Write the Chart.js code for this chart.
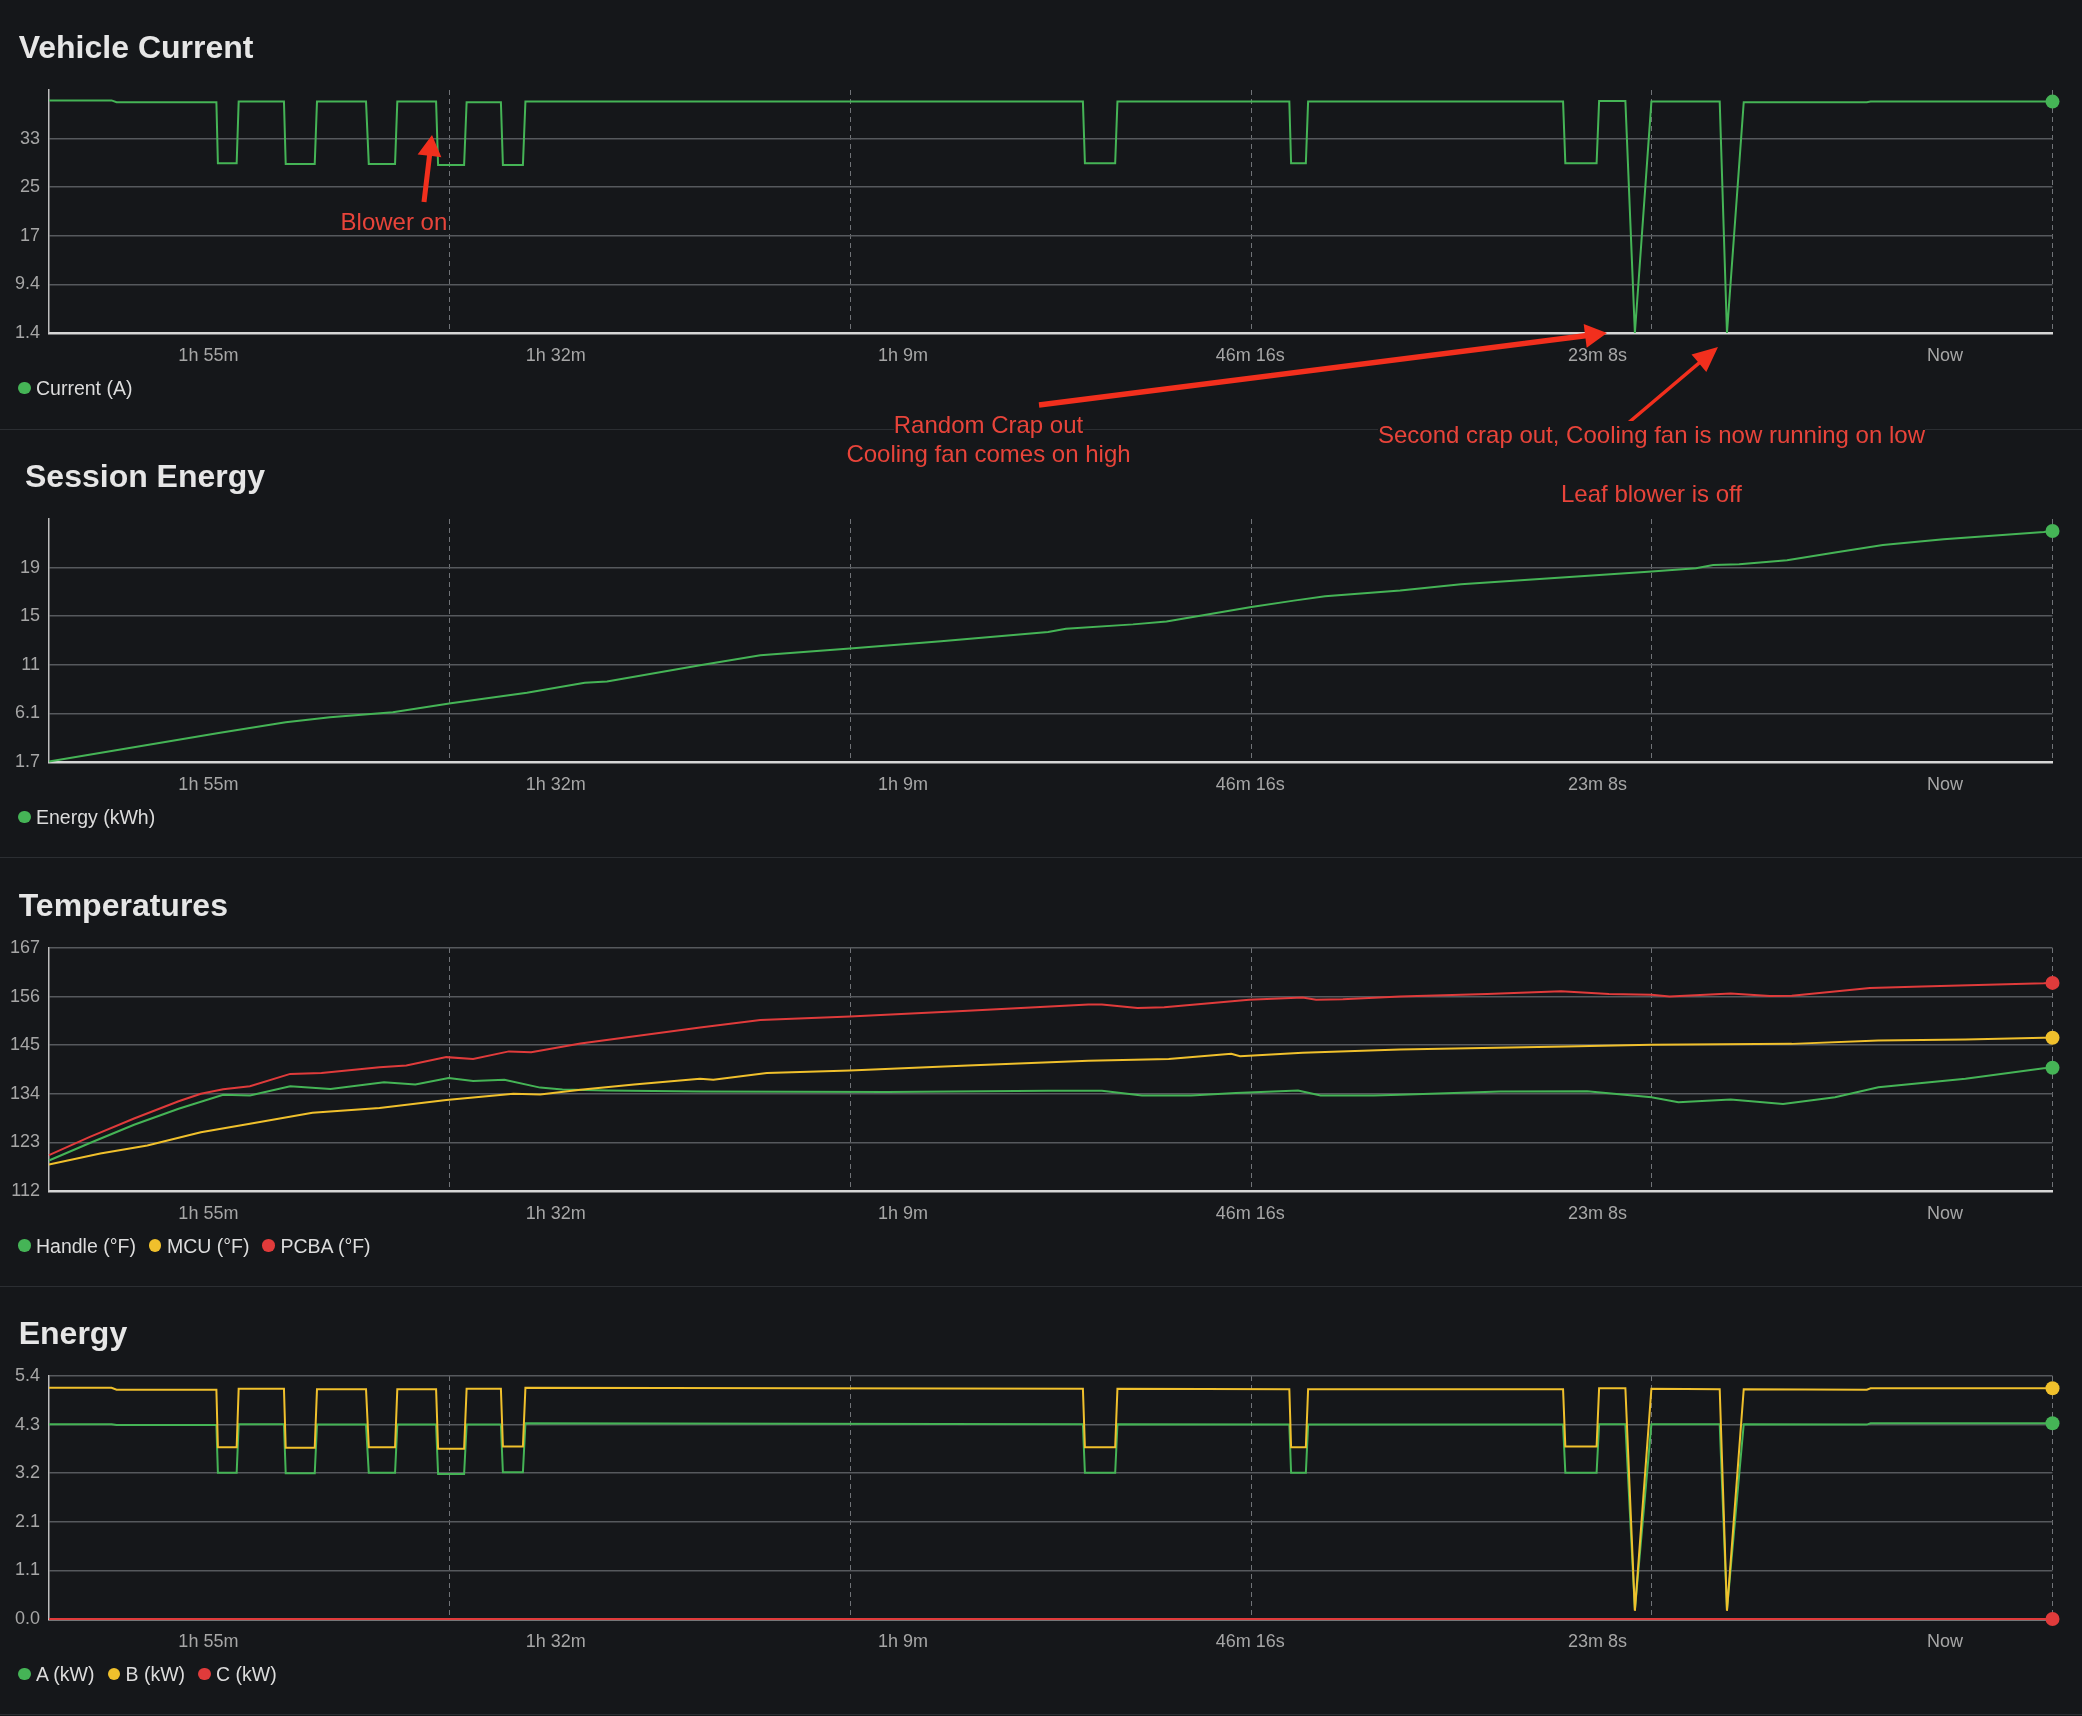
<!DOCTYPE html>
<html>
<head>
<meta charset="utf-8">
<script src="https://cdn.jsdelivr.net/npm/chart.js@4.4.1/dist/chart.umd.min.js"></script>
<style>
html,body{margin:0;padding:0;background:#15171a;}
body{width:2082px;height:1716px;position:relative;overflow:hidden;font-family:"Liberation Sans",Arial,sans-serif;}
.panel{position:absolute;left:0;width:2082px;height:428px;}
.panel canvas{position:absolute;left:0;top:0;}
.title{position:absolute;top:31px;font-weight:bold;font-size:32px;line-height:32px;color:#e6e6e6;white-space:nowrap;}
.legend{position:absolute;left:18px;top:378px;display:flex;align-items:center;font-size:19.5px;line-height:20px;color:#dcdcdc;white-space:nowrap;}
.legend .item{display:flex;align-items:center;margin-right:13px;}
.legend .dot{width:12.5px;height:12.5px;border-radius:50%;margin-right:5.5px;display:inline-block;}
.sep{position:absolute;left:0;width:2082px;height:1px;background:#2b2e32;}
.note{position:absolute;font-size:24px;line-height:29px;color:#e8443a;white-space:nowrap;text-align:center;}
.note span{background:#15171a;}
#arrows{position:absolute;left:0;top:0;}
</style>
</head>
<body>

<div class="panel" id="p0"><canvas id="c0" width="2082" height="428"></canvas><div class="title" style="left:18.7px">Vehicle Current</div><div class="legend" id="l0"></div></div>
<div class="panel" id="p1"><canvas id="c1" width="2082" height="428"></canvas><div class="title" style="left:25px">Session Energy</div><div class="legend" id="l1"></div></div>
<div class="panel" id="p2"><canvas id="c2" width="2082" height="428"></canvas><div class="title" style="left:18.7px">Temperatures</div><div class="legend" id="l2"></div></div>
<div class="panel" id="p3"><canvas id="c3" width="2082" height="428"></canvas><div class="title" style="left:18.7px">Energy</div><div class="legend" id="l3"></div></div>

<div class="sep" style="top:429px"></div>
<div class="sep" style="top:857px"></div>
<div class="sep" style="top:1286px"></div>
<div class="sep" style="top:1714px"></div>

<svg id="arrows" width="2082" height="1716"></svg>

<div class="note" style="left:340.6px;top:207px;text-align:left"><span>Blower on</span></div>
<div class="note" style="left:688.5px;top:410px;width:600px"><span>Random Crap out</span><br><span>Cooling fan comes on high</span></div>
<div class="note" style="left:1301.5px;top:420px;width:700px"><span>Second crap out, Cooling fan is now running on low</span></div>
<div class="note" style="left:1301.5px;top:479px;width:700px"><span>Leaf blower is off</span></div>

<script>
// ---------------- DATA ----------------
// x values: seconds since the start of the visible window
const X_MIN = 0;
const X_MAX = 8007;
const X_GRID = [1601, 3203, 4804, 6406, 8007];
const X_LABEL_VALUES = [637, 2025, 3413, 4801, 6189, 7577];
const X_LABELS = ['1h 55m', '1h 32m', '1h 9m', '46m 16s', '23m 8s', 'Now'];

// Vehicle Current
const CUR_Y_MIN = 1.4, CUR_Y_MAX = 41.2;
const CUR_TICKS = [1.4, 9.36, 17.32, 25.28, 33.24];
const CUR_TICK_LABELS = ['1.4', '9.4', '17', '25', '33'];

// shared sample times for the current and per-phase power traces
const SAMPLE_T = [0, 250, 270, 669, 675, 750, 758, 939, 946, 1062, 1071, 1267, 1278, 1383, 1392,
  1547, 1555, 1659, 1669, 1806, 1814, 1894, 1904, 4132, 4140, 4261, 4270, 4957, 4964, 5023, 5032,
  6051, 6060, 6185, 6195, 6300, 6338, 6404, 6677, 6706, 6773, 7265, 7280, 8007];
const CURRENT_A = [39.5, 39.5, 39.2, 39.2, 29.2, 29.2, 39.3, 39.3, 29.1, 29.1, 39.3, 39.3, 29.1, 29.1, 39.3,
  39.3, 28.9, 28.9, 39.2, 39.2, 28.9, 28.9, 39.3, 39.3, 29.2, 29.2, 39.3, 39.3, 29.2, 29.2, 39.3,
  39.3, 29.2, 29.2, 39.4, 39.4, 1.4, 39.3, 39.3, 1.4, 39.2, 39.2, 39.3, 39.3];

// Session Energy
const EN_Y_MIN = 1.7, EN_Y_MAX = 23.7;
const EN_TICKS = [1.7, 6.1, 10.5, 14.9, 19.3];
const EN_TICK_LABELS = ['1.7', '6.1', '11', '15', '19'];
const ENERGY_T = [0, 482, 678, 946, 1123, 1374, 1606, 1910, 2141, 2230, 2602, 2843, 3201, 3565, 3993,
  4064, 4332, 4466, 4618, 4805, 4975, 5100, 5400, 5643, 6405, 6582, 6651, 6755, 6946, 7138, 7329, 7572, 7972, 8007];
const ENERGY_KWH = [1.75, 3.57, 4.33, 5.29, 5.75, 6.2, 7.02, 7.96, 8.87, 8.98, 10.45, 11.37, 11.98, 12.64, 13.46,
  13.77, 14.16, 14.43, 15.0, 15.73, 16.31, 16.7, 17.22, 17.8, 18.94, 19.24, 19.54, 19.6, 19.96, 20.66, 21.35, 21.87, 22.53, 22.62];

// Temperatures
const T_Y_MIN = 112, T_Y_MAX = 167;
const T_TICKS = [112, 123, 134, 145, 156, 167];
const T_TICK_LABELS = ['112', '123', '134', '145', '156', '167'];
const HANDLE_T = [0, 161, 340, 518, 696, 803, 964, 1125, 1339, 1464, 1597, 1695, 1820, 1963, 2052, 2230, 2602,
  3351, 3993, 4208, 4368, 4564, 4743, 4992, 5082, 5295, 5399, 5799, 6147, 6404, 6512, 6721, 6930, 7138, 7311, 7659, 7972, 8007];
const HANDLE_F = [118.9, 122.8, 127.0, 130.6, 133.8, 133.6, 135.7, 135.1, 136.6, 136.1, 137.6, 136.9, 137.2, 135.4, 135.0, 134.75, 134.5,
  134.4, 134.7, 134.7, 133.6, 133.6, 134.2, 134.75, 133.6, 133.6, 133.8, 134.5, 134.6, 133.2, 132.1, 132.7, 131.7, 133.2, 135.5, 137.4, 139.8, 139.9];
const MCU_T = [0, 205, 393, 607, 803, 1053, 1321, 1588, 1856, 1963, 2124, 2338, 2602, 2655, 2869, 3201, 3672,
  4154, 4475, 4725, 4760, 5010, 5399, 6060, 6404, 6965, 7311, 7659, 7972, 8007];
const MCU_F = [118.0, 120.5, 122.3, 125.3, 127.2, 129.7, 130.8, 132.6, 134.0, 133.85, 134.9, 136.1, 137.4, 137.2, 138.7, 139.3, 140.4,
  141.5, 141.9, 143.05, 142.5, 143.3, 144.0, 144.7, 145.1, 145.3, 146.05, 146.3, 146.7, 146.7];
const PCBA_T = [0, 161, 340, 518, 607, 696, 803, 964, 1089, 1321, 1428, 1588, 1695, 1838, 1927, 2124, 2602, 2843, 3201, 3672,
  4154, 4208, 4350, 4457, 4796, 5010, 5064, 5171, 5399, 5747, 6043, 6234, 6404, 6477, 6721, 6877, 6965, 7277, 7485, 7972, 8007];
const PCBA_F = [120.1, 124.2, 128.4, 132.3, 134.0, 135.05, 135.7, 138.5, 138.7, 140.0, 140.4, 142.3, 141.9, 143.6, 143.4, 145.4, 149.0, 150.7, 151.5, 152.8,
  154.2, 154.2, 153.4, 153.6, 155.3, 155.8, 155.3, 155.4, 156.0, 156.6, 157.2, 156.6, 156.4, 156.0, 156.7, 156.15, 156.2, 157.96, 158.3, 159.0, 159.1];

// Energy (per-phase power)
const P_Y_MIN = 0, P_Y_MAX = 5.35;
const P_TICKS = [0, 1.07, 2.14, 3.21, 4.28, 5.35];
const P_TICK_LABELS = ['0.0', '1.1', '2.1', '3.2', '4.3', '5.4'];
const POWER_A_KW = [4.29, 4.29, 4.27, 4.27, 3.22, 3.22, 4.29, 4.29, 3.21, 3.21, 4.28, 4.28, 3.22, 3.22, 4.28,
  4.28, 3.19, 3.19, 4.28, 4.28, 3.23, 3.23, 4.31, 4.29, 3.22, 3.22, 4.29, 4.28, 3.22, 3.22, 4.28,
  4.28, 3.22, 3.22, 4.29, 4.29, 0.2, 4.29, 4.29, 0.2, 4.29, 4.28, 4.31, 4.31];
const POWER_B_KW = [5.09, 5.09, 5.05, 5.05, 3.78, 3.78, 5.07, 5.07, 3.77, 3.77, 5.06, 5.06, 3.78, 3.78, 5.06,
  5.06, 3.75, 3.75, 5.07, 5.07, 3.8, 3.8, 5.09, 5.07, 3.78, 3.78, 5.07, 5.06, 3.78, 3.78, 5.06,
  5.06, 3.8, 3.8, 5.08, 5.08, 0.18, 5.07, 5.06, 0.18, 5.06, 5.05, 5.08, 5.08];
const POWER_C_T = [0, 8007];
const POWER_C_KW = [0, 0];

// ---------------- STYLE ----------------
const GREEN = '#45b456', YELLOW = '#f0c02c', RED = '#e03b3b';
const TICK_COLOR = '#a6a6a6';
const FONT = '"Liberation Sans", Arial, sans-serif';
Chart.defaults.font.family = FONT;

const ALL_X_TICKS = [...X_GRID, ...X_LABEL_VALUES].sort((a, b) => a - b);

function xy(T, V) { return T.map((t, i) => ({ x: t, y: V[i] })); }

function series(label, T, V, color, order) {
  const n = T.length;
  return {
    label, data: xy(T, V), borderColor: color, backgroundColor: color,
    borderWidth: 2, tension: 0, clip: false, order,
    pointRadius: c => (c.dataIndex === n - 1 ? 7 : 0),
    pointHoverRadius: 0, pointBorderWidth: 0, pointBackgroundColor: color
  };
}

function makeChart(id, datasets, yMin, yMax, yTicks, yLabels) {
  return new Chart(document.getElementById(id), {
    type: 'line',
    data: { datasets },
    options: {
      responsive: false, animation: false, devicePixelRatio: 1, events: [],
      layout: { padding: { top: 90, right: 29.5, bottom: 55, left: 0 } },
      plugins: { legend: { display: false }, tooltip: { enabled: false }, title: { display: false } },
      scales: {
        x: {
          type: 'linear', min: X_MIN, max: X_MAX,
          afterBuildTicks: s => { s.ticks = ALL_X_TICKS.map(v => ({ value: v })); },
          afterFit: s => { s.height = 40; },
          ticks: {
            autoSkip: false, maxRotation: 0, minRotation: 0, padding: 12.5,
            color: TICK_COLOR, font: { size: 18 },
            callback: v => { const i = X_LABEL_VALUES.indexOf(v); return i >= 0 ? X_LABELS[i] : ''; }
          },
          grid: {
            drawTicks: false, color: '#707377',
            lineWidth: c => (c.tick && X_GRID.includes(c.tick.value) ? 1 : 0)
          },
          border: { display: true, color: '#d6d6d6', width: 2.5, dash: [5, 4] }
        },
        y: {
          type: 'linear', min: yMin, max: yMax,
          afterBuildTicks: s => { s.ticks = yTicks.map(v => ({ value: v })); },
          afterFit: s => { s.width = 49; },
          ticks: { padding: 9, color: TICK_COLOR, font: { size: 18 }, callback: (v, i) => yLabels[i] },
          grid: { drawTicks: false, color: '#56595d', lineWidth: 1.5 },
          border: { display: true, color: '#bdbdbd', width: 1.5 }
        }
      }
    }
  });
}

function legend(id, items) {
  const el = document.getElementById(id);
  el.innerHTML = items.map(([t, c]) =>
    `<span class="item"><span class="dot" style="background:${c}"></span><span>${t}</span></span>`).join('');
}

// panel positions
const PANEL_TOPS = [0, 429, 857.5, 1286];
PANEL_TOPS.forEach((t, i) => { document.getElementById('p' + i).style.top = t + 'px'; });

makeChart('c0', [series('Current (A)', SAMPLE_T, CURRENT_A, GREEN, 0)],
  CUR_Y_MIN, CUR_Y_MAX, CUR_TICKS, CUR_TICK_LABELS);
legend('l0', [['Current (A)', GREEN]]);

makeChart('c1', [series('Energy (kWh)', ENERGY_T, ENERGY_KWH, GREEN, 0)],
  EN_Y_MIN, EN_Y_MAX, EN_TICKS, EN_TICK_LABELS);
legend('l1', [['Energy (kWh)', GREEN]]);

makeChart('c2', [
  series('Handle (°F)', HANDLE_T, HANDLE_F, GREEN, 2),
  series('MCU (°F)', MCU_T, MCU_F, YELLOW, 1),
  series('PCBA (°F)', PCBA_T, PCBA_F, RED, 0)
], T_Y_MIN, T_Y_MAX, T_TICKS, T_TICK_LABELS);
legend('l2', [['Handle (°F)', GREEN], ['MCU (°F)', YELLOW], ['PCBA (°F)', RED]]);

makeChart('c3', [
  series('A (kW)', SAMPLE_T, POWER_A_KW, GREEN, 2),
  series('B (kW)', SAMPLE_T, POWER_B_KW, YELLOW, 1),
  series('C (kW)', POWER_C_T, POWER_C_KW, RED, 0)
], P_Y_MIN, P_Y_MAX, P_TICKS, P_TICK_LABELS);
legend('l3', [['A (kW)', GREEN], ['B (kW)', YELLOW], ['C (kW)', RED]]);

// ---------------- ANNOTATION ARROWS ----------------
const ARROWS = [
  [424, 202, 432, 135, 5, 21, 24],
  [1039, 405, 1607, 333, 5.5, 22, 24],
  [1627, 424, 1718, 347, 3.5, 25, 23]
];
const svg = document.getElementById('arrows');
svg.innerHTML = ARROWS.map(([x1, y1, x2, y2, w, hl, hw]) => {
  const dx = x2 - x1, dy = y2 - y1, L = Math.hypot(dx, dy);
  const ux = dx / L, uy = dy / L, nx = -uy, ny = ux;
  const bx = x2 - ux * hl, by = y2 - uy * hl;
  const p = [
    [x1 + nx * w / 2, y1 + ny * w / 2], [bx + nx * w / 2, by + ny * w / 2], [bx + nx * hw / 2, by + ny * hw / 2],
    [x2, y2],
    [bx - nx * hw / 2, by - ny * hw / 2], [bx - nx * w / 2, by - ny * w / 2], [x1 - nx * w / 2, y1 - ny * w / 2]
  ];
  return `<polygon fill="#f22f1d" points="${p.map(q => q[0].toFixed(1) + ',' + q[1].toFixed(1)).join(' ')}"/>`;
}).join('');
</script>
</body>
</html>
